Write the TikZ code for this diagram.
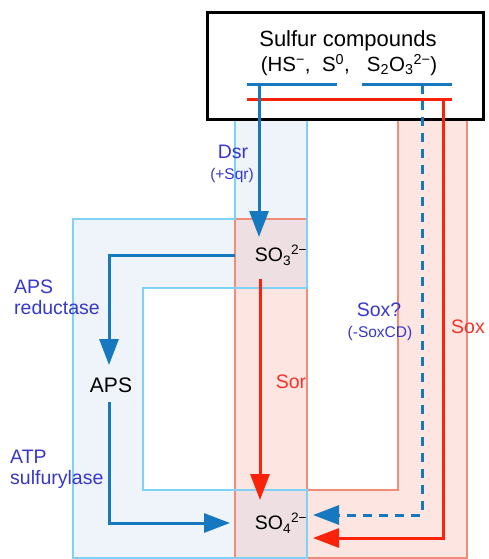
\documentclass[tikz,border=0pt]{standalone}
\usepackage{fontspec}
\setmainfont{Liberation Sans}
\usetikzlibrary{arrows.meta,positioning}
\definecolor{arrBlue}{RGB}{22,120,190}
\definecolor{arrRed}{RGB}{250,35,10}
\definecolor{labBlue}{RGB}{55,55,205}
\definecolor{labRed}{RGB}{250,50,40}
\definecolor{bandBlue}{RGB}{238,244,250}
\definecolor{edgeBlue}{RGB}{125,210,245}
\definecolor{bandRed}{RGB}{253,229,226}
\definecolor{edgeRed}{RGB}{240,140,120}
\definecolor{bandMix}{RGB}{238,224,226}

\begin{document}
\begin{tikzpicture}[x=1pt, y=-1pt,
    every node/.style={font=\fontsize{19.5}{21}\selectfont, inner sep=0pt},
    bluearr/.style={arrBlue, line width=3pt, -{Triangle[length=26pt,width=19pt]}},
    redarr/.style={arrRed, line width=3pt, -{Triangle[length=26pt,width=19pt]}},
    enz/.style={labBlue, align=left},
    smalltext/.style={font=\fontsize{15.5}{17}\selectfont}]
    \useasboundingbox (0,0) rectangle (488,559);
    % the two pathway bands (blue: Dsr/APS route, red: Sor/Sox route)
    \fill[bandBlue] (235,120) -- (307,120) -- (307,288) -- (143,288) -- (143,490) -- (307,490)
      -- (307,558) -- (73,558) -- (73,219) -- (235,219) -- cycle;
    \fill[bandRed] (398,120) -- (467,120) -- (467,558) -- (235,558) -- (235,219) -- (307,219)
      -- (307,490) -- (398,490) -- cycle;
    \foreach \c in {(235,219),(235,490)}{
      \fill[bandMix] \c rectangle ++(72,69);}
    \draw[edgeRed, line width=1.5pt] (398,120) -- (467,120) -- (467,558) -- (235,558) -- (235,219)
      -- (307,219) -- (307,490) -- (398,490) -- cycle;
    \draw[edgeBlue, line width=1.5pt] (235,120) -- (307,120) -- (307,288) -- (143,288) -- (143,490)
      -- (307,490) -- (307,558) -- (73,558) -- (73,219) -- (235,219) -- cycle;
    % source box
    \node[draw, line width=3pt, fill=white, minimum width=276pt, minimum height=107pt] (src) at (345,66.5) {};
    \node[font=\fontsize{22}{24}\selectfont] (title) at (348,41) {Sulfur compounds};
    \node[font=\fontsize{20.5}{24}\selectfont] (species) at (349,65) {(HS\textsuperscript{−},\ \ S\textsuperscript{0},\ \ \ S\textsubscript{2}O\textsubscript{3}\textsuperscript{2−})};
    \draw[arrBlue, line width=3pt] (247,85) -- (337,85);
    \draw[arrBlue, line width=3pt] (362,85) -- (452,85);
    \draw[arrRed, line width=3pt] (247,100) -- (452,100);
    % intermediates
    \node (so3) at (281,255) {SO\textsubscript{3}\textsuperscript{2−}};
    \node[font=\fontsize{21}{23}\selectfont] (aps) at (111,385) {APS};
    \node (so4) at (281,523) {SO\textsubscript{4}\textsuperscript{2−}};
    % arrow ends
    \coordinate (dsrtop) at (259,85);
    \coordinate (dsrend) at (259,237);
    \coordinate (so3out) at (235,255);
    \coordinate (apsin) at (109,365);
    \coordinate (apsout) at (109,402);
    \coordinate (so4left) at (230,523);
    \coordinate (sortop) at (260,279);
    \coordinate (sorend) at (260,500);
    \coordinate (soxqtop) at (422,85);
    \coordinate (soxqend) at (313,515);
    \coordinate (soxtop) at (443,100);
    \coordinate (soxend) at (313,538);
    \draw[bluearr] (dsrtop) -- (dsrend);
    \draw[bluearr] (so3out) -| (apsin);
    \draw[bluearr] (apsout) |- (so4left);
    \draw[redarr] (sortop) -- (sorend);
    \draw[bluearr, dash pattern=on 9pt off 7pt] (soxqtop) |- (soxqend);
    \draw[redarr] (soxtop) |- (soxend);
    % enzyme labels
    \node[enz] (dsr) at (233,152) {Dsr};
    \node[enz, smalltext] (sqr) at (232,175) {(+Sqr)};
    \node[enz, anchor=west] (apsred) at (14,297) {APS\\reductase};
    \node[enz, anchor=west] (atpsul) at (10,469) {ATP\\sulfurylase};
    \node[labRed] (sor) at (291,382) {Sor};
    \node[enz] (soxq) at (379,310) {Sox?};
    \node[enz, smalltext] (soxcd) at (380,333) {(-SoxCD)};
    \node[labRed] (sox) at (468,327) {Sox};
\end{tikzpicture}
\end{document}
